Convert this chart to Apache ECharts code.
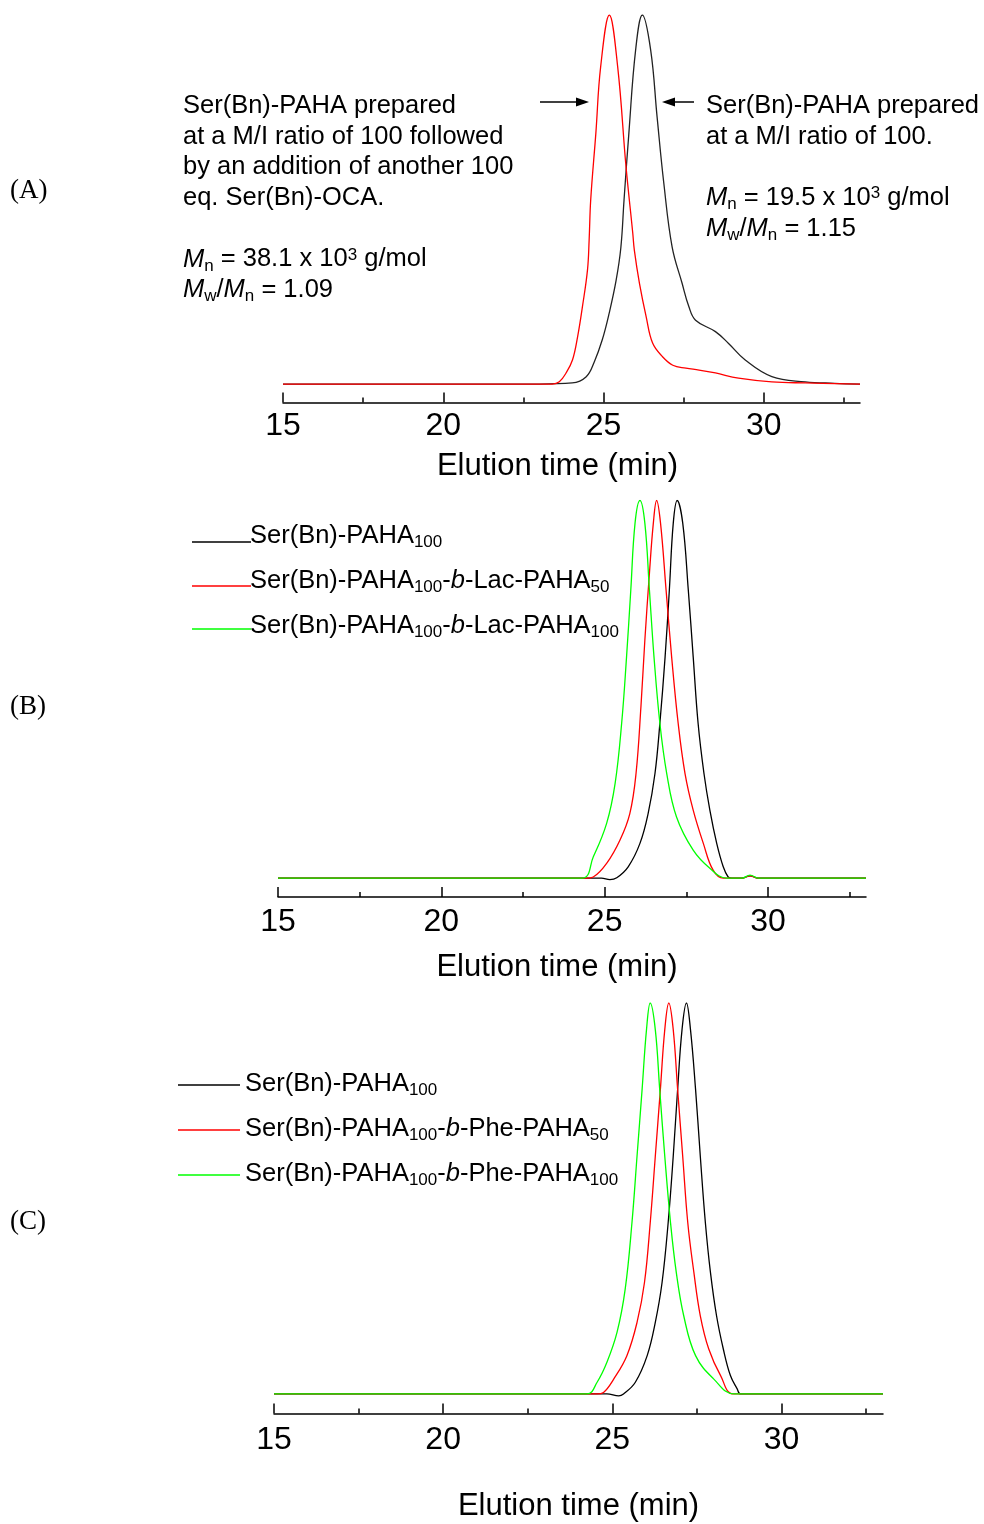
<!DOCTYPE html>
<html>
<head>
<meta charset="utf-8">
<title>GPC traces</title>
<script src="https://cdn.jsdelivr.net/npm/echarts@6.0.0/dist/echarts.min.js"></script>
<style>
    body { margin: 0; background: #fff; }
    #gpcChart { width: 984px; height: 1524px; }
</style>
</head>
<body>
<div id="gpcChart"></div>
<script>
var FONT = '"Liberation Sans", Arial, sans-serif';

// x axis (elution time, min)
var timeMin = 15;
var timeMax = 33;
var majorTicks = [15, 20, 25, 30];
var minorTicks = [17.5, 22.5, 27.5, 32.5];
var axisName = 'Elution time (min)';

// (A) normalised detector signal, [time, signal]
var aNames = ['Ser(Bn)-PAHA, M/I 100', 'Ser(Bn)-PAHA, M/I 100 + 100 eq. Ser(Bn)-OCA'];
var aBlack = [[15,0],[23.0,0],[24.02,0.003],[24.46,0.02],[24.71,0.06],[24.96,0.12],[25.17,0.19],[25.39,0.28],
    [25.54,0.37],[25.64,0.50],[25.79,0.68],[26.00,0.905],[26.21,1.0],[26.47,0.905],[26.67,0.724],[26.88,0.544],
    [27.14,0.371],[27.45,0.273],[27.66,0.21],[27.87,0.173],[28.49,0.142],[28.90,0.110],[29.42,0.065],
    [30.25,0.020],[31.29,0.006],[32.2,0.002],[33,0]];
var aRed = [[15,0],[23.40,0],[23.62,0.006],[23.83,0.03],[24.03,0.065],[24.19,0.128],[24.34,0.209],[24.50,0.31],
    [24.55,0.39],[24.60,0.50],[24.76,0.68],[24.91,0.86],[25.18,1.0],[25.44,0.86],[25.70,0.59],[25.91,0.41],
    [25.96,0.363],[26.12,0.273],[26.33,0.182],[26.53,0.111],[26.84,0.074],[27.16,0.051],[27.57,0.043],
    [27.98,0.038],[28.49,0.030],[29.21,0.016],[30.25,0.006],[31.29,0.003],[33,0]];

// (B)
var bNames = ['Ser(Bn)-PAHA100', 'Ser(Bn)-PAHA100-b-Lac-PAHA50', 'Ser(Bn)-PAHA100-b-Lac-PAHA100'];
var bBlack = [[15,0],[24.9,0],[25.16,-0.004],[25.37,0.001],[25.72,0.030],[26.08,0.092],[26.33,0.171],[26.54,0.277],
    [26.69,0.410],[26.85,0.586],[26.98,0.763],[27.10,0.940],[27.22,1.0],[27.39,0.940],[27.56,0.763],[27.71,0.586],
    [27.86,0.410],[28.04,0.277],[28.22,0.180],[28.43,0.092],[28.63,0.030],[28.78,0.003],[28.89,0],[29.2,0],
    [29.45,0.006],[29.7,0],[33,0]];
var bRed = [[15,0],[24.45,0],[24.65,0.003],[25.06,0.039],[25.47,0.101],[25.77,0.171],[25.96,0.277],[26.11,0.454],
    [26.23,0.630],[26.37,0.807],[26.49,0.940],[26.59,1.0],[26.71,0.940],[26.88,0.763],[27.05,0.586],[27.25,0.410],
    [27.46,0.277],[27.71,0.180],[28.02,0.092],[28.32,0.021],[28.63,0],[29.2,0],[29.45,0.006],[29.7,0],[33,0]];
var bGreen = [[15,0],[24.30,0],[24.65,0.056],[25.06,0.145],[25.32,0.251],[25.52,0.410],[25.67,0.586],[25.80,0.763],
    [25.93,0.940],[26.08,1.0],[26.23,0.940],[26.37,0.763],[26.51,0.586],[26.69,0.410],[26.90,0.277],[27.20,0.162],
    [27.71,0.074],[28.22,0.026],[28.73,0],[29.2,0],[29.45,0.008],[29.7,0],[33,0]];

// (C)
var cNames = ['Ser(Bn)-PAHA100 ', 'Ser(Bn)-PAHA100-b-Phe-PAHA50', 'Ser(Bn)-PAHA100-b-Phe-PAHA100'];
var cBlack = [[15,0],[24.84,0],[25.19,-0.005],[25.33,0],[25.68,0.030],[26.03,0.098],[26.27,0.183],[26.47,0.285],
    [26.65,0.438],[26.80,0.608],[26.93,0.779],[27.06,0.932],[27.19,1.0],[27.31,0.932],[27.46,0.779],[27.60,0.608],
    [27.75,0.438],[27.90,0.311],[28.08,0.200],[28.28,0.115],[28.49,0.047],[28.69,0.013],[28.79,0],[33,0]];
var cRed = [[15,0],[24.55,0],[24.74,0.004],[25.04,0.038],[25.43,0.098],[25.73,0.183],[25.95,0.285],[26.12,0.438],
    [26.27,0.608],[26.42,0.779],[26.55,0.932],[26.67,1.0],[26.80,0.932],[26.93,0.779],[27.08,0.608],[27.23,0.438],
    [27.41,0.311],[27.60,0.200],[27.85,0.115],[28.20,0.047],[28.59,0],[33,0]];
var cGreen = [[15,0],[24.25,0],[24.55,0.030],[24.84,0.081],[25.14,0.158],[25.38,0.268],[25.58,0.438],[25.73,0.608],
    [25.88,0.779],[26.01,0.932],[26.12,1.0],[26.27,0.932],[26.40,0.779],[26.55,0.608],[26.72,0.438],[26.89,0.311],
    [27.11,0.200],[27.46,0.098],[28.00,0.038],[28.60,0],[33,0]];

var gpcChart;

function init() {
    gpcChart = echarts.init(document.getElementById('gpcChart'), null, {renderer: 'canvas'});
    var option = {
        animation: false,
        backgroundColor: '#fff',
        grid: [
            {left: 283, top: 15, width: 577, height: 387.5, outerBoundsMode: 'none'},
            {left: 278, top: 500.5, width: 588, height: 396.5, outerBoundsMode: 'none'},
            {left: 274, top: 1003, width: 609, height: 410.5, outerBoundsMode: 'none'}
        ],
        xAxis: [].concat(
            timeAxes(0, 8, 48.5, 28),
            timeAxes(1, 9, 54.5, 30),
            timeAxes(2, 11, 77, 0)
        ),
        yAxis: [signalAxis(0), signalAxis(1), signalAxis(2)],
        series: [
            trace(aNames[0], aBlack, '#222', 0),
            trace(aNames[1], aRed, '#ff0000', 0),
            trace(bNames[0], bBlack, '#000', 1),
            trace(bNames[1], bRed, '#ff0000', 1),
            trace(bNames[2], bGreen, '#00ff00', 1),
            trace(cNames[0], cBlack, '#000', 2),
            trace(cNames[1], cRed, '#ff0000', 2),
            trace(cNames[2], cGreen, '#00ff00', 2)
        ],
        graphic: annotations()
    };
    gpcChart.setOption(option);
}

function timeAxes(g, labelMargin, nameGap, namePadRight) {
    var major = {
        type: 'value',
        gridIndex: g,
        position: 'bottom',
        min: timeMin,
        max: timeMax,
        interval: 5,
        name: axisName,
        nameLocation: 'middle',
        nameGap: nameGap,
        nameTextStyle: {fontSize: 31, color: '#000', fontFamily: FONT, padding: [0, namePadRight, 0, 0]},
        axisLine: {show: true, onZero: false, lineStyle: {color: '#000', width: 1.5}},
        axisTick: {show: true, inside: true, length: 10, customValues: majorTicks, lineStyle: {color: '#000', width: 1.5}},
        axisLabel: {show: true, customValues: majorTicks, margin: labelMargin, fontSize: 32, color: '#000', fontFamily: FONT},
        splitLine: {show: false}
    };
    // second axis on the same line, only for the short ticks
    var minor = {
        type: 'value',
        gridIndex: g,
        position: 'bottom',
        min: timeMin,
        max: timeMax,
        interval: 5,
        axisLine: {show: false, onZero: false},
        axisTick: {show: true, inside: true, length: 5, customValues: minorTicks, lineStyle: {color: '#000', width: 1.5}},
        axisLabel: {show: false},
        splitLine: {show: false}
    };
    return [major, minor];
}

function signalAxis(g) {
    return {type: 'value', gridIndex: g, min: -0.05, max: 1, show: false, splitLine: {show: false}};
}

function trace(name, data, color, g) {
    return {
        name: name,
        type: 'line',
        xAxisIndex: g * 2,
        yAxisIndex: g,
        data: data,
        showSymbol: false,
        symbol: 'none',
        smooth: 0.4,
        lineStyle: {color: color, width: 1.3},
        itemStyle: {color: color},
        silent: true
    };
}

function richStyles(size, lh) {
    return {
        it: {fontSize: size, fontFamily: FONT, fontStyle: 'italic', fill: '#000', lineHeight: lh},
        sub: {fontSize: 17, fontFamily: FONT, fill: '#000', lineHeight: lh, padding: [13, 0, 0, 0]},
        sup: {fontSize: 17, fontFamily: FONT, fill: '#000', lineHeight: lh, padding: [0, 0, 9, 0]}
    };
}

function textBlock(x, y, text, va) {
    return {
        type: 'text',
        x: x,
        y: y,
        silent: true,
        style: {
            text: text,
            fontSize: 25.5,
            fontFamily: FONT,
            fill: '#000',
            lineHeight: 30.7,
            verticalAlign: va || 'top',
            align: 'left',
            rich: richStyles(25.5, 30.7)
        }
    };
}

function legendLine(x1, x2, y, color) {
    return {type: 'line', silent: true, shape: {x1: x1, y1: y, x2: x2, y2: y}, style: {stroke: color, lineWidth: 1.3}};
}

function panelLabel(text, y) {
    return {type: 'text', x: 10, y: y, silent: true,
        style: {text: text, fontSize: 27, fontFamily: '"Liberation Serif", "Times New Roman", serif', fill: '#000', verticalAlign: 'middle'}};
}

function annotations() {
    var els = [];
    els.push(panelLabel('(A)', 191));
    els.push(panelLabel('(B)', 707));
    els.push(panelLabel('(C)', 1222));

    // (A) texts
    els.push(textBlock(183, 90.6,
        'Ser(Bn)-PAHA prepared\nat a M/I ratio of 100 followed\nby an addition of another 100\neq. Ser(Bn)-OCA.\n\n' +
        '{it|M}{sub|n} = 38.1 x 10{sup|3} g/mol\n{it|M}{sub|w}/{it|M}{sub|n} = 1.09'));
    els.push(textBlock(706, 90.6,
        'Ser(Bn)-PAHA prepared\nat a M/I ratio of 100.\n\n' +
        '{it|M}{sub|n} = 19.5 x 10{sup|3} g/mol\n{it|M}{sub|w}/{it|M}{sub|n} = 1.15'));
    // arrows
    els.push({type: 'line', silent: true, shape: {x1: 540, y1: 102, x2: 578, y2: 102}, style: {stroke: '#000', lineWidth: 1.5}});
    els.push({type: 'polygon', silent: true, shape: {points: [[589, 102], [576, 97.5], [576, 106.5]]}, style: {fill: '#000'}});
    els.push({type: 'line', silent: true, shape: {x1: 694, y1: 102, x2: 673, y2: 102}, style: {stroke: '#000', lineWidth: 1.5}});
    els.push({type: 'polygon', silent: true, shape: {points: [[662, 102], [675, 97.5], [675, 106.5]]}, style: {fill: '#000'}});

    // (B) legend
    els.push(legendLine(192, 251, 542, '#000'));
    els.push(legendLine(192, 251, 586, '#ff0000'));
    els.push(legendLine(192, 251, 629, '#00ff00'));
    els.push(textBlock(250, 536, 'Ser(Bn)-PAHA{sub|100}', 'middle'));
    els.push(textBlock(250, 581, 'Ser(Bn)-PAHA{sub|100}-{it|b}-Lac-PAHA{sub|50}', 'middle'));
    els.push(textBlock(250, 626, 'Ser(Bn)-PAHA{sub|100}-{it|b}-Lac-PAHA{sub|100}', 'middle'));

    // (C) legend
    els.push(legendLine(178, 240, 1085, '#000'));
    els.push(legendLine(178, 240, 1130, '#ff0000'));
    els.push(legendLine(178, 240, 1175, '#00ff00'));
    els.push(textBlock(245, 1084, 'Ser(Bn)-PAHA{sub|100}', 'middle'));
    els.push(textBlock(245, 1129, 'Ser(Bn)-PAHA{sub|100}-{it|b}-Phe-PAHA{sub|50}', 'middle'));
    els.push(textBlock(245, 1174, 'Ser(Bn)-PAHA{sub|100}-{it|b}-Phe-PAHA{sub|100}', 'middle'));
    return els;
}

init();
</script>
</body>
</html>
